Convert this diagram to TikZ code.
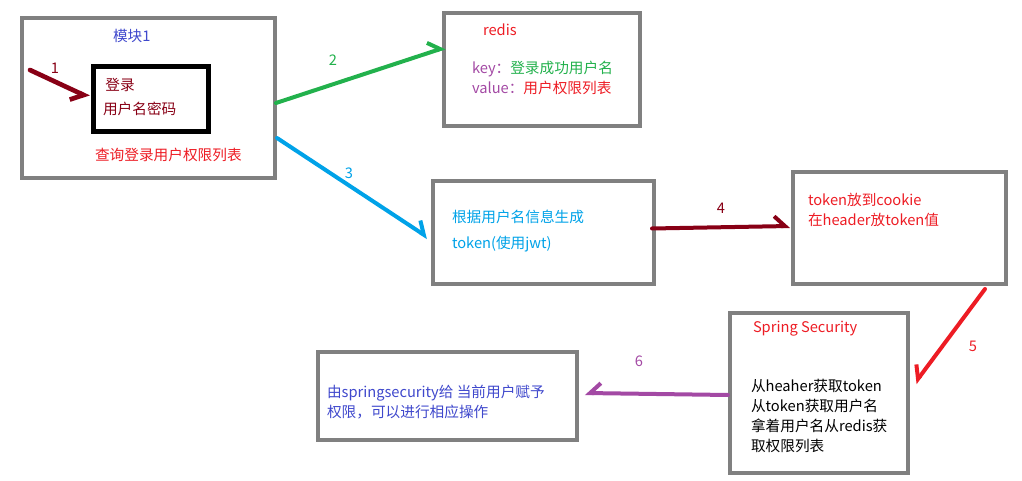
\documentclass[tikz,border=0pt]{standalone}
\usepackage{fontspec}
\setmainfont{Noto Sans CJK SC}
\usepackage{tikz}
\usetikzlibrary{arrows.meta,calc}

\definecolor{boxgray}{HTML}{808080}
\definecolor{darkred}{HTML}{880015}
\definecolor{pred}{HTML}{ED1C24}
\definecolor{pgreen}{HTML}{22B14C}
\definecolor{pblue}{HTML}{00A2E8}
\definecolor{pindigo}{HTML}{3F48CC}
\definecolor{ppurple}{HTML}{A349A4}

\begin{document}
\begin{tikzpicture}[x=0.75pt, y=-0.75pt,
  every node/.style={inner sep=0pt, outer sep=0pt, font=\fontsize{11}{15}\selectfont},
  panel/.style={draw=boxgray, line width=3pt, rectangle},
  txt/.style={anchor=west, align=left},
  link/.style={line width=3pt, line cap=round, -{Straight Barb[harpoon,length=8pt,width=15pt]}},
  rlink/.style={line width=3pt, line cap=round, -{Straight Barb[harpoon,swap,length=8pt,width=15pt]}}]
  \useasboundingbox (0,0) rectangle (1022,481);

  % boxes
  \node (mod) [panel, minimum width=189.75pt, minimum height=120pt] at (148.5,98) {};
  \node (login) [panel, draw=black, line width=3.75pt, minimum width=86.25pt, minimum height=48.75pt] at (150.5,99.5) {};
  \node (redis) [panel, minimum width=147pt, minimum height=84.75pt] at (542,69.5) {};
  \node (tok) [panel, minimum width=165.75pt, minimum height=77.25pt] at (543.5,232.5) {};
  \node (cook) [panel, minimum width=159.75pt, minimum height=84pt] at (899.5,228) {};
  \node (spr) [panel, minimum width=133.5pt, minimum height=120pt] at (819,393) {};
  \node (fin) [panel, minimum width=194.25pt, minimum height=66pt] at (447.5,396) {};

  % texts
  \node (modt) [txt, text=pindigo] at (113,36) {模块1};
  \node (logint) [txt, text=darkred, font=\fontsize{11}{18}\selectfont] at (103,97) {\,登录\\用户名密码};
  \node (query) [txt, text=pred] at (95,155) {查询登录用户权限列表};
  \node (redist) [txt, text=pred] at (483,30) {redis};
  \node (kv) [txt] at (472,78) {\textcolor{ppurple}{key：}\textcolor{pgreen}{登录成功用户名}\\\textcolor{ppurple}{value：}\textcolor{pred}{用户权限列表}};
  \node (tokt) [txt, text=pblue, font=\fontsize{11}{19}\selectfont] at (452,231) {根据用户名信息生成\\token(使用jwt)};
  \node (cookt) [txt, text=pred] at (808,210) {token放到cookie\\在header放token值};
  \node (sprt) [txt, text=pred] at (753,329) {Spring Security};
  \node (sprb) [txt] at (751,416) {从heaher获取token\\从token获取用户名\\拿着用户名从redis获\\取权限列表};
  \node (fint) [txt, text=pindigo] at (327,402) {由springsecurity给 当前用户赋予\\权限，可以进行相应操作};

  % step numbers
  \node (n1) [text=darkred] at (55,68) {1};
  \node (n2) [text=pgreen] at (333,60) {2};
  \node (n3) [text=pblue] at (349,173) {3};
  \node (n4) [text=darkred] at (721,208) {4};
  \node (n5) [text=pred] at (973,346) {5};
  \node (n6) [text=ppurple] at (639,361) {6};

  % connectors
  \coordinate (start) at (30,70);
  \draw[rlink, darkred, line width=3.5pt] (start) -- ($(login.west)+(-4,-2)$);
  \draw[link, pgreen] ($(mod.east)+(1,5)$) -- ($(redis.west)+(1,-22)$);
  \draw[link, pblue] ($(mod.east)+(2,40)$) -- ($(tok.west)+(-5,5)$);
  \draw[link, darkred] ($(tok.east)+(-2,-4)$) -- ($(cook.west)+(-3,-2)$);
  \draw[rlink, pred] ($(cook.south east)+(-21,5)$) -- ($(spr.east)+(7,-10)$);
  \draw[rlink, ppurple] ($(spr.west)+(-2,2)$) -- ($(fin.east)+(8,-3)$);
\end{tikzpicture}
\end{document}
